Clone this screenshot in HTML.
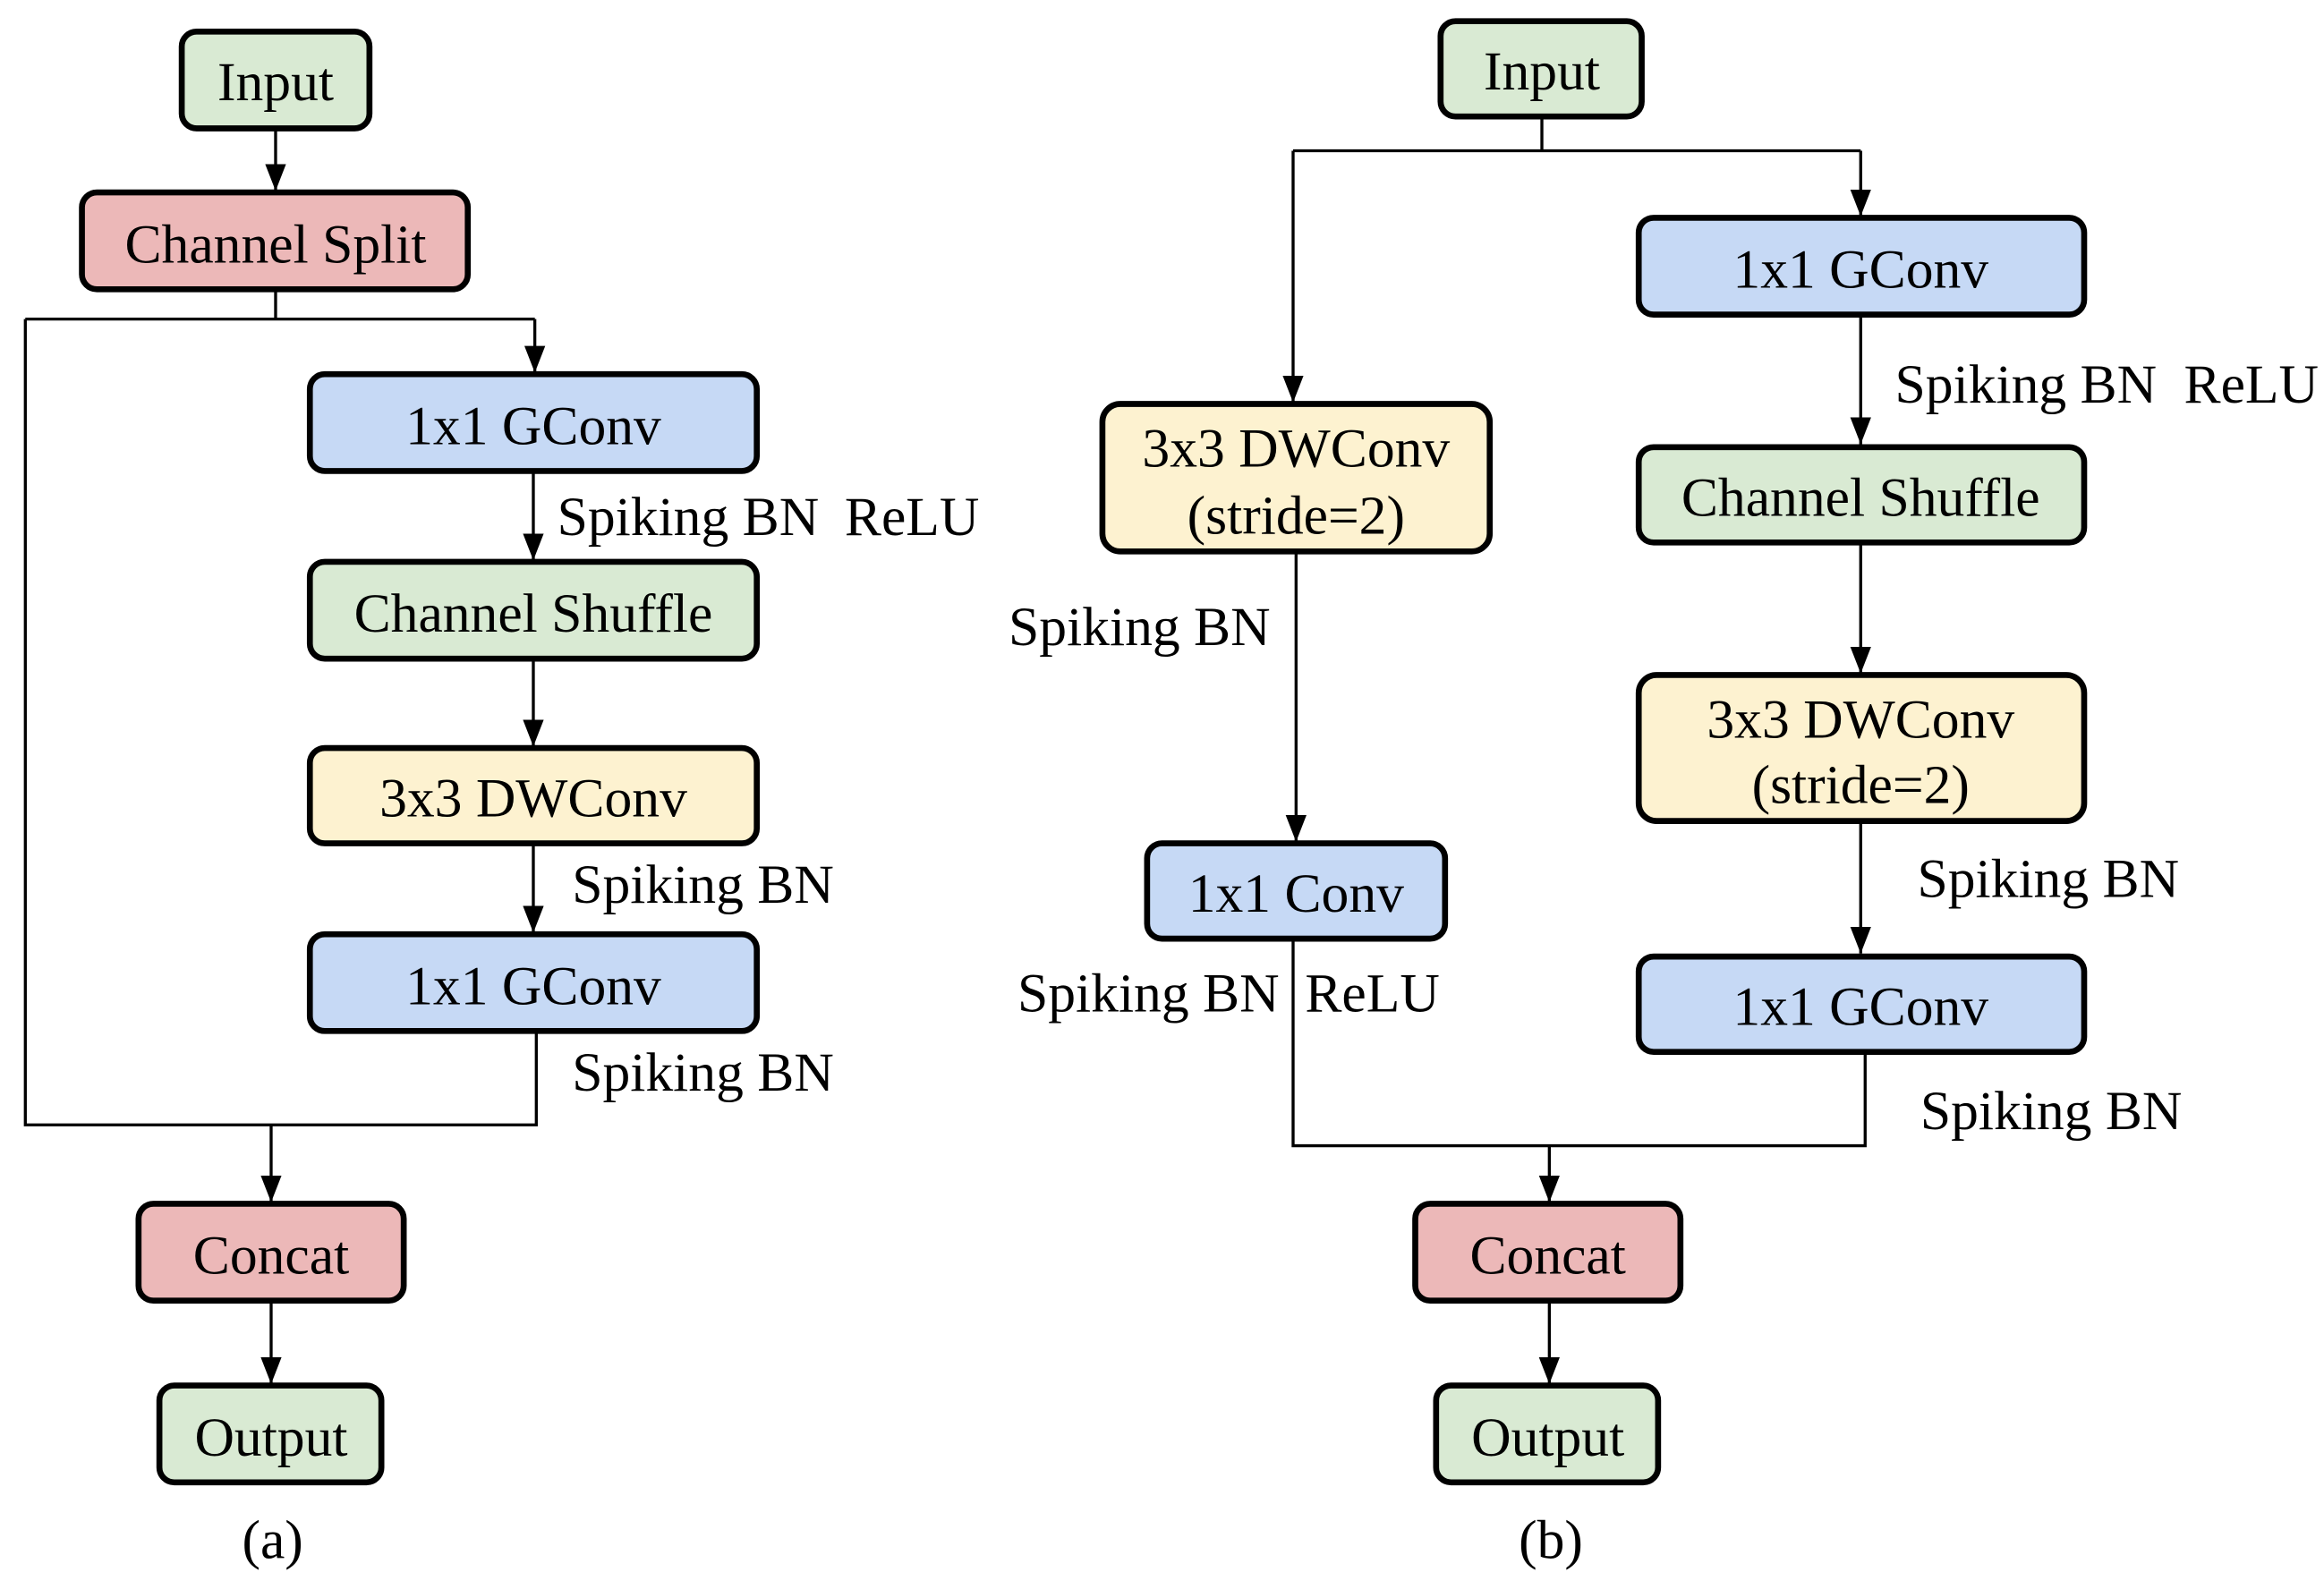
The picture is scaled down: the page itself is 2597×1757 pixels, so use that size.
<!DOCTYPE html>
<html><head><meta charset="utf-8"><style>html,body{margin:0;padding:0;background:#fff}svg{display:block}</style></head>
<body>
<svg width="2597" height="1757" viewBox="0 0 1560 1055" xmlns="http://www.w3.org/2000/svg" font-family="'Liberation Serif', serif" font-size="37">
<defs>
<marker id="a" viewBox="0 0 14 18" markerWidth="14" markerHeight="18" refX="7" refY="18" orient="0" markerUnits="userSpaceOnUse"><path d="M0,0 L14,0 L7,18 Z" fill="#000"/></marker></defs>
<g fill="none" stroke="#000" stroke-width="2">
<path d="M185 86 V128" marker-end="url(#a)"/>
<path d="M185 194 V214 M17 214 H359 M17 214 V755 H360 V692"/>
<path d="M359 214 V250" marker-end="url(#a)"/>
<path d="M358 316 V376" marker-end="url(#a)"/>
<path d="M358 442 V501" marker-end="url(#a)"/>
<path d="M358 566 V626" marker-end="url(#a)"/>
<path d="M182 755 V807" marker-end="url(#a)"/>
<path d="M182 873 V929" marker-end="url(#a)"/>
<path d="M1035 78 V101 M868 101 H1249"/>
<path d="M868 101 V270" marker-end="url(#a)"/>
<path d="M1249 101 V145" marker-end="url(#a)"/>
<path d="M1249 211 V298" marker-end="url(#a)"/>
<path d="M1249 364 V452" marker-end="url(#a)"/>
<path d="M1249 551 V640" marker-end="url(#a)"/>
<path d="M870 370 V565" marker-end="url(#a)"/>
<path d="M868 630 V769 H1252 V706"/>
<path d="M1040 769 V807" marker-end="url(#a)"/>
<path d="M1040 873 V929" marker-end="url(#a)"/>
</g>
<g stroke="#000" stroke-width="4">
<rect x="122" y="21" width="126" height="65" rx="10" fill="#d9ead3"/>
<rect x="55" y="129" width="259" height="65" rx="10" fill="#ecb8b8"/>
<rect x="208" y="251" width="300" height="65" rx="10" fill="#c6d9f5"/>
<rect x="208" y="377" width="300" height="65" rx="10" fill="#d9ead3"/>
<rect x="208" y="502" width="300" height="64" rx="10" fill="#fdf2d0"/>
<rect x="208" y="627" width="300" height="65" rx="10" fill="#c6d9f5"/>
<rect x="93" y="808" width="178" height="65" rx="10" fill="#ecb8b8"/>
<rect x="107" y="930" width="149" height="65" rx="10" fill="#d9ead3"/>
<rect x="967" y="14" width="135" height="64" rx="10" fill="#d9ead3"/>
<rect x="1100" y="146" width="299" height="65" rx="10" fill="#c6d9f5"/>
<rect x="1100" y="300" width="299" height="64" rx="10" fill="#d9ead3"/>
<rect x="1100" y="453" width="299" height="98" rx="12" fill="#fdf2d0"/>
<rect x="1100" y="642" width="299" height="64" rx="10" fill="#c6d9f5"/>
<rect x="740" y="271" width="260" height="99" rx="12" fill="#fdf2d0"/>
<rect x="770" y="566" width="200" height="64" rx="10" fill="#c6d9f5"/>
<rect x="950" y="808" width="178" height="65" rx="10" fill="#ecb8b8"/>
<rect x="964" y="930" width="149" height="65" rx="10" fill="#d9ead3"/>
</g>
<g fill="#000" text-anchor="middle">
<text x="185" y="67">Input</text>
<text x="185" y="176">Channel Split</text>
<text x="358" y="298">1x1 GConv</text>
<text x="358" y="424">Channel Shuffle</text>
<text x="358" y="548">3x3 DWConv</text>
<text x="358" y="674">1x1 GConv</text>
<text x="182" y="855">Concat</text>
<text x="182" y="977">Output</text>
<text x="183" y="1046">(a)</text>
<text x="1035" y="60">Input</text>
<text x="1249" y="193">1x1 GConv</text>
<text x="1249" y="346">Channel Shuffle</text>
<text x="1249" y="495">3x3 DWConv</text>
<text x="1249" y="539">(stride=2)</text>
<text x="1249" y="688">1x1 GConv</text>
<text x="870" y="313">3x3 DWConv</text>
<text x="870" y="358">(stride=2)</text>
<text x="870" y="612">1x1 Conv</text>
<text x="1039" y="855">Concat</text>
<text x="1039" y="977">Output</text>
<text x="1041" y="1046">(b)</text>
</g>
<g fill="#000">
<text x="374" y="359">Spiking BN</text><text x="567" y="359">ReLU</text>
<text x="384" y="606">Spiking BN</text>
<text x="384" y="732">Spiking BN</text>
<text x="1272" y="270">Spiking BN</text><text x="1466" y="270">ReLU</text>
<text x="677" y="433">Spiking BN</text>
<text x="683" y="679">Spiking BN</text>
<text x="876" y="679">ReLU</text>
<text x="1287" y="602">Spiking BN</text>
<text x="1289" y="758">Spiking BN</text>
</g>
</svg>
</body></html>
